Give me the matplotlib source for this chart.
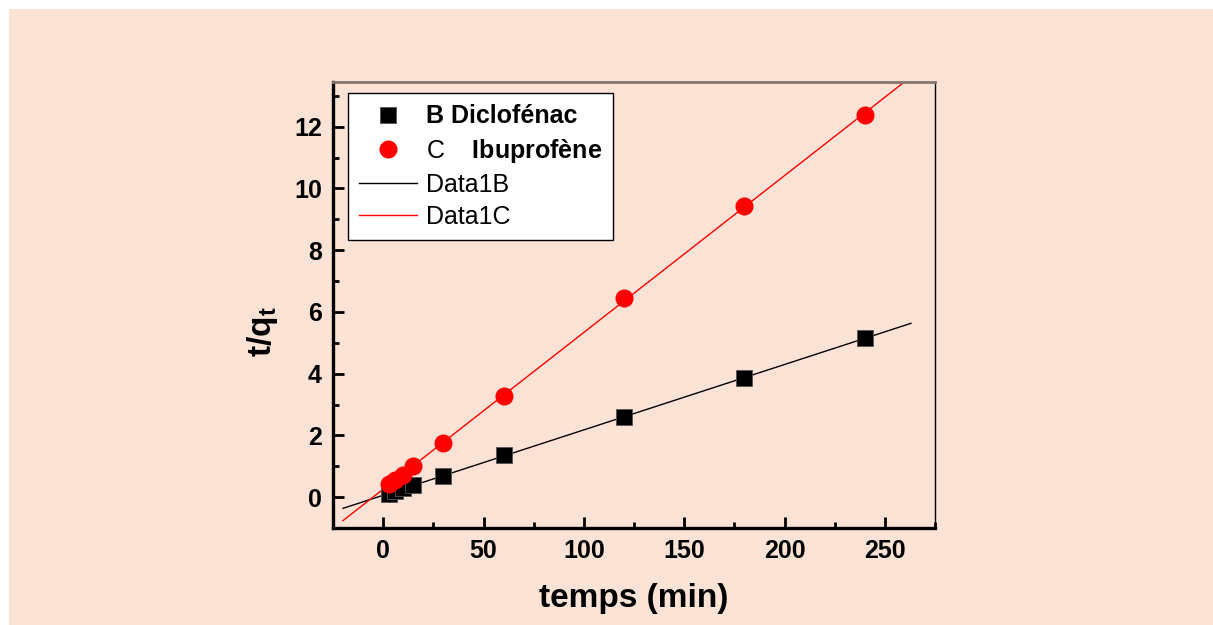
import matplotlib
matplotlib.use('Agg')
import matplotlib.pyplot as plt
import numpy as np
from matplotlib.patches import Rectangle
from matplotlib.ticker import MultipleLocator

# Fond pêche et police type Arial
BG = '#FCE3D6'
plt.rcParams['font.family'] = ['Liberation Sans', 'DejaVu Sans']
plt.rcParams['mathtext.fontset'] = 'custom'
plt.rcParams['mathtext.rm'] = 'Liberation Sans'
plt.rcParams['mathtext.bf'] = 'Liberation Sans:bold'
plt.rcParams['mathtext.it'] = 'Liberation Sans:italic'

# Données
temps = [3, 6, 10, 15, 30, 60, 120, 180, 240]
diclofenac = [0.09, 0.19, 0.31, 0.38, 0.67, 1.35, 2.61, 3.87, 5.14]
ibuprofene = [0.41, 0.57, 0.73, 1.00, 1.77, 3.29, 6.46, 9.43, 12.38]
fit_range = [-20, 263]

fig = plt.figure(figsize=(12.13, 6.25), dpi=100)
fig.patch.set_facecolor('white')
fig.patches.append(Rectangle((9 / 1213, 0), 1 - 9 / 1213, 1 - 9 / 625,
                             transform=fig.transFigure, facecolor=BG,
                             edgecolor='none', zorder=-10))

ax = fig.add_axes([333 / 1213, 1 - 528 / 625, (935 - 333) / 1213, (528 - 82) / 625])
ax.set_facecolor(BG)

# Droites de régression
xf = np.array(fit_range, dtype=float)
pb = np.polyfit(temps, diclofenac, 1)
pc = np.polyfit(temps, ibuprofene, 1)

sq, = ax.plot(temps, diclofenac, 's', color='black', markersize=11.5,
              markeredgecolor='#555555', markeredgewidth=0.6, zorder=3)
ci, = ax.plot(temps, ibuprofene, 'o', color='#FF0000', markersize=13,
              markeredgewidth=0, zorder=4)
lb, = ax.plot(xf, np.polyval(pb, xf), '-', color='black', linewidth=1, zorder=2)
lc, = ax.plot(xf, np.polyval(pc, xf), '-', color='#FF0000', linewidth=1, zorder=2)

ax.set_xlim(-25, 275)
ax.set_ylim(-1, 13.45)
ax.xaxis.set_major_locator(MultipleLocator(50))
ax.xaxis.set_minor_locator(MultipleLocator(25))
ax.yaxis.set_major_locator(MultipleLocator(2))
ax.yaxis.set_minor_locator(MultipleLocator(1))
ax.set_xticks([0, 50, 100, 150, 200, 250])

ax.tick_params(which='both', direction='in', top=False, right=False,
               width=2, color='black')
ax.tick_params(which='major', length=8, labelsize=18, pad=8)
ax.tick_params(which='minor', length=4)
for lab in ax.get_xticklabels() + ax.get_yticklabels():
    lab.set_fontweight('bold')

ax.spines['left'].set_linewidth(2.4)
ax.spines['bottom'].set_linewidth(2.4)
ax.spines['right'].set_linewidth(1)
ax.spines['top'].set_linewidth(2)
ax.spines['top'].set_color('#85776f')

ax.set_xlabel('temps (min)', fontsize=24, fontweight='bold', labelpad=14)
ax.set_ylabel(r'$\mathbf{t/q_t}$', fontsize=24)
ax.yaxis.set_label_coords(-0.088, 0.44)

leg = ax.legend([sq, ci, lb, lc],
                ['B Diclofénac', r'C    $\mathbf{Ibuprofène}$', 'Data1B', 'Data1C'],
                loc='upper left', bbox_to_anchor=(0.025, 0.975), borderaxespad=0,
                fontsize=18, frameon=True, fancybox=False, facecolor='white',
                edgecolor='black', framealpha=1, handlelength=2.3,
                handletextpad=0.35, labelspacing=0.33, borderpad=0.45)
leg.get_frame().set_linewidth(1)
leg.get_texts()[0].set_fontweight('bold')

fig.savefig('out.png', dpi=100, facecolor='white')
